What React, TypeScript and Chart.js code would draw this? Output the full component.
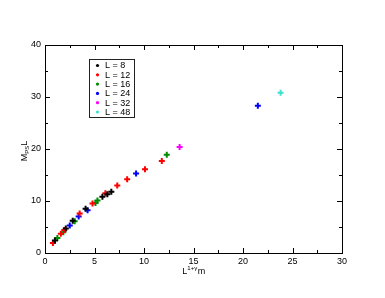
import React, { useEffect, useRef } from "react";
import { Chart, registerables } from "chart.js";
Chart.register(...registerables);

// ---- data ----
const seriesLabels = ["L = 8", "L = 12", "L = 16", "L = 24", "L = 32", "L = 48"];
const l8X = [1.0, 2.1, 2.8, 4.1, 5.8, 6.3, 6.7];
const l8Y = [2.4, 4.7, 6.2, 8.5, 10.8, 11.3, 11.8];
const l12X = [0.8, 1.6, 1.95, 3.5, 4.8, 6.1, 7.3, 8.3, 10.1, 11.8];
const l12Y = [1.9, 3.7, 4.4, 7.6, 9.5, 11.5, 13.0, 14.2, 16.1, 17.7];
const l16X = [1.25, 1.85, 3.0, 5.1, 5.3, 12.3];
const l16Y = [2.9, 4.0, 6.1, 9.6, 10.1, 18.9];
const l24X = [2.5, 3.4, 4.3, 9.2, 21.5];
const l24Y = [5.3, 7.0, 8.2, 15.3, 28.3];
const l32X = [13.6];
const l32Y = [20.4];
const l48X = [23.8];
const l48Y = [30.8];
const xTicks = [0, 5, 10, 15, 20, 25, 30];
const yTicks = [0, 10, 20, 30, 40];

const seriesX = [l8X, l12X, l16X, l24X, l32X, l48X];
const seriesY = [l8Y, l12Y, l16Y, l24Y, l32Y, l48Y];
const seriesColors = ["#000000", "#ff0000", "#008b00", "#0000ff", "#ff00ff", "#40e0d0"];

const FONT = "'Liberation Sans', Arial, sans-serif";

const decorPlugin = {
  id: "decor",
  afterDraw(chart: any) {
    const ctx = chart.ctx as CanvasRenderingContext2D;
    const { left, right, top, bottom } = chart.chartArea;
    const xs = chart.scales.x;
    const ys = chart.scales.y;
    ctx.save();
    ctx.strokeStyle = "#000";
    ctx.lineWidth = 1;
    ctx.strokeRect(Math.round(left) + 0.5, Math.round(top) + 0.5, Math.round(right - left), Math.round(bottom - top));
    ctx.beginPath();
    for (let v = 0; v <= 30; v += 2.5) {
      const px = Math.round(xs.getPixelForValue(v)) + 0.5;
      const len = v % 5 === 0 ? 5 : 3;
      ctx.moveTo(px, bottom);
      ctx.lineTo(px, bottom - len);
      ctx.moveTo(px, top);
      ctx.lineTo(px, top + len);
    }
    for (let v = 0; v <= 40; v += 5) {
      const py = Math.round(ys.getPixelForValue(v)) + 0.5;
      const len = v % 10 === 0 ? 5 : 3;
      ctx.moveTo(left, py);
      ctx.lineTo(left + len, py);
      ctx.moveTo(right, py);
      ctx.lineTo(right - len, py);
    }
    ctx.stroke();

    // legend
    const bx = 89.5, by = 59.5, bw = 45, bh = 58;
    ctx.strokeStyle = "#222";
    ctx.strokeRect(bx, by, bw, bh);
    ctx.font = `9px ${FONT}`;
    ctx.textBaseline = "middle";
    ctx.textAlign = "left";
    chart.data.datasets.forEach((ds: any, i: number) => {
      const cy = 65.5 + i * 9.3;
      ctx.fillStyle = ds.borderColor;
      ctx.beginPath();
      ctx.arc(97.5, cy, 1.6, 0, Math.PI * 2);
      ctx.fill();
      ctx.fillStyle = "#000";
      ctx.fillText(ds.label, 105, cy + 0.5);
    });

    // x title: L^{1+γ}m
    const cx = (left + right) / 2;
    ctx.fillStyle = "#000";
    ctx.textBaseline = "alphabetic";
    const big = `9px ${FONT}`;
    const small = `6px ${FONT}`;
    ctx.font = big;
    const wL = ctx.measureText("L").width;
    const wM = ctx.measureText("m").width;
    ctx.font = small;
    const wS = ctx.measureText("1+γ").width;
    const x0 = cx - (wL + wS + wM) / 2;
    const base = 274;
    ctx.font = big;
    ctx.fillText("L", x0, base);
    ctx.font = small;
    ctx.fillText("1+γ", x0 + wL, base - 4);
    ctx.font = big;
    ctx.fillText("m", x0 + wL + wS + 0.5, base);

    // y title: M_PS L
    ctx.save();
    ctx.translate(27, (top + bottom) / 2 + 2);
    ctx.rotate(-Math.PI / 2);
    ctx.font = big;
    const wM2 = ctx.measureText("M").width;
    const wL2 = ctx.measureText("L").width;
    ctx.font = small;
    const wPS = ctx.measureText("PS").width;
    const y0 = -(wM2 + wPS + wL2) / 2;
    ctx.font = big;
    ctx.fillText("M", y0, 0);
    ctx.font = small;
    ctx.fillText("PS", y0 + wM2, 2);
    ctx.font = big;
    ctx.fillText("L", y0 + wM2 + wPS, 0);
    ctx.restore();

    ctx.restore();
  },
};

export default function App() {
  const ref = useRef<HTMLCanvasElement>(null);
  useEffect(() => {
    if (!ref.current) return;
    const datasets = seriesLabels.map((label, i) => ({
      label,
      data: seriesX[i].map((x, j) => ({ x, y: seriesY[i][j] })),
      borderColor: seriesColors[i],
      backgroundColor: seriesColors[i],
      pointStyle: "cross" as const,
      pointRadius: 3,
      borderWidth: 2,
      showLine: false,
    }));
    const chart = new Chart(ref.current, {
      type: "scatter",
      data: { datasets },
      options: {
        animation: false,
        responsive: false,
        maintainAspectRatio: false,
        layout: { padding: { left: 0, top: 45, right: 43, bottom: 0 } },
        plugins: { legend: { display: false }, tooltip: { enabled: false } },
        scales: {
          x: {
            type: "linear",
            min: 0,
            max: 30,
            afterBuildTicks: (s: any) => {
              s.ticks = xTicks.map((v) => ({ value: v }));
            },
            afterFit: (s: any) => {
              s.height = 45;
            },
            grid: { display: false, drawTicks: false },
            border: { display: false },
            ticks: { color: "#000", font: { size: 9, family: FONT }, padding: 3, maxRotation: 0 },
          },
          y: {
            type: "linear",
            min: 0,
            max: 40,
            afterBuildTicks: (s: any) => {
              s.ticks = yTicks.map((v) => ({ value: v }));
            },
            afterFit: (s: any) => {
              s.width = 45;
            },
            grid: { display: false, drawTicks: false },
            border: { display: false },
            ticks: { color: "#000", font: { size: 9, family: FONT }, padding: 4 },
          },
        },
      },
      plugins: [decorPlugin],
    });
    return () => chart.destroy();
  }, []);
  return (
    <div style={{ position: "fixed", left: 0, top: 0, width: 385, height: 298, background: "#fff" }}>
      <canvas ref={ref} width={385} height={298} style={{ width: 385, height: 298 }} />
    </div>
  );
}
